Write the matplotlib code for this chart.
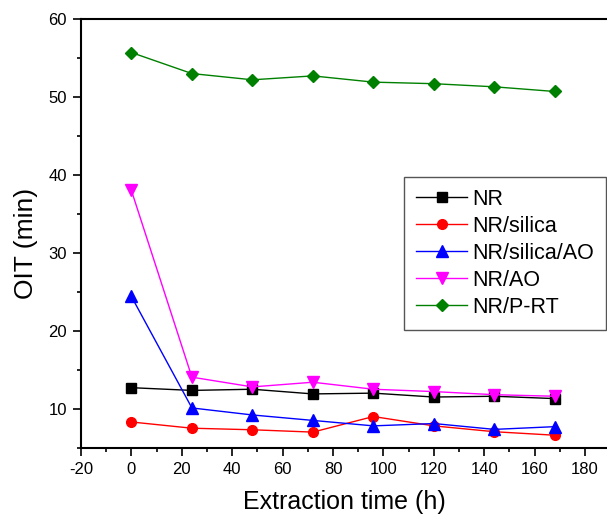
import matplotlib.pyplot as plt
from matplotlib.ticker import MultipleLocator

plt.rcParams['font.family'] = ['Liberation Sans', 'DejaVu Sans']
plt.rcParams['axes.unicode_minus'] = False

hours = [0, 24, 48, 72, 96, 120, 144, 168]

oit_nr = [12.7, 12.35, 12.5, 11.9, 12.0, 11.5, 11.6, 11.3]
oit_silica = [8.3, 7.5, 7.3, 7.0, 9.0, 7.8, 7.05, 6.6]
oit_silica_ao = [24.4, 10.1, 9.2, 8.5, 7.8, 8.1, 7.35, 7.7]
oit_ao = [38.0, 14.05, 12.8, 13.4, 12.5, 12.2, 11.8, 11.6]
oit_prt = [55.7, 53.0, 52.2, 52.7, 51.9, 51.7, 51.3, 50.7]

fig = plt.figure(figsize=(6.07, 5.20), dpi=100)
ax = fig.add_axes([81 / 607, 72.3 / 520, 526 / 607, 428.7 / 520])

ax.plot(hours, oit_nr, color='black', marker='s', ms=6.5, lw=1.0, label='NR')
ax.plot(hours, oit_silica, color='red', marker='o', ms=7, lw=1.0, label='NR/silica')
ax.plot(hours, oit_silica_ao, color='blue', marker='^', ms=8.5, lw=1.0, label='NR/silica/AO')
ax.plot(hours, oit_ao, color='magenta', marker='v', ms=8.5, lw=1.0, label='NR/AO')
ax.plot(hours, oit_prt, color='green', marker='D', ms=6, lw=1.0, label='NR/P-RT')

ax.set_xlim(-20, 188.7)
ax.set_ylim(5, 60)
ax.xaxis.set_major_locator(MultipleLocator(20))
ax.xaxis.set_minor_locator(MultipleLocator(10))
ax.yaxis.set_major_locator(MultipleLocator(10))
ax.yaxis.set_minor_locator(MultipleLocator(5))
ax.set_yticks([10, 20, 30, 40, 50, 60])
ax.tick_params(which='major', direction='out', length=6, width=1.2, labelsize=12, pad=4)
ax.tick_params(which='minor', direction='out', length=3, width=1.2)

ax.spines['right'].set_visible(False)
for side in ['left', 'bottom', 'top']:
    ax.spines[side].set_linewidth(1.5)

fig.text(344 / 607, 1 - 502 / 520, 'Extraction time (h)', fontsize=18,
         ha='center', va='center')
fig.text(26 / 607, 1 - 243 / 520, 'OIT (min)', fontsize=19,
         rotation=90, ha='center', va='center')

leg = ax.legend(loc='upper left', bbox_to_anchor=(404 / 607, 1 - 176.7 / 520),
                bbox_transform=fig.transFigure, borderaxespad=0,
                fontsize=15.5, fancybox=False, framealpha=1, edgecolor='#555555',
                handlelength=2.37, labelspacing=0.28, handletextpad=0.23,
                borderpad=0.56)
leg.get_frame().set_linewidth(1.0)

fig.savefig('out.png', dpi=100)
